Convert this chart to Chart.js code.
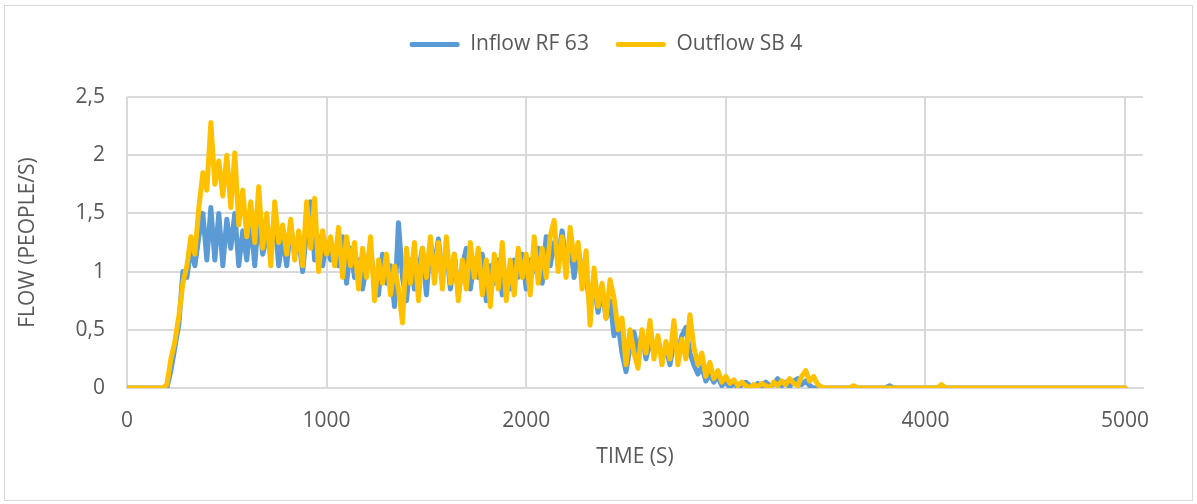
<!DOCTYPE html>
<html>
<head>
<meta charset="utf-8">
<title>Flow</title>
<script src="https://cdn.jsdelivr.net/npm/chart.js@4.4.1/dist/chart.umd.min.js"></script>
<style>
    html, body { margin: 0; padding: 0; background: #fff; }
</style>
</head>
<body>
<canvas id="flowChart" width="1197" height="504"></canvas>
<script>
/* global Chart */

// one sample every STEP seconds, starting at t = 0
const STEP = 20;

const inflow = [
    0, 0, 0, 0, 0, 0, 0, 0, 0, 0,
    0, 0.15, 0.35, 0.55, 1.0, 0.95, 1.2, 1.05, 1.3, 1.5,
    1.1, 1.55, 1.1, 1.5, 1.05, 1.45, 1.2, 1.5, 1.05, 1.35,
    1.1, 1.45, 1.05, 1.5, 1.15, 1.3, 1.2, 1.45, 1.05, 1.3,
    1.05, 1.4, 1.15, 1.3, 1.0, 1.35, 1.6, 1.1, 1.3, 1.05,
    1.25, 1.1, 1.2, 1.05, 1.3, 0.9, 1.2, 0.95, 1.1, 0.85,
    1.05, 1.2, 0.9, 0.8, 1.15, 0.9, 1.05, 0.7, 1.42, 0.95,
    0.75, 1.1, 0.85, 1.0, 1.2, 0.8, 1.25, 1.05, 1.28, 0.95,
    1.2, 0.85, 1.15, 0.8, 1.05, 1.2, 0.85, 1.1, 0.95, 1.15,
    0.75, 1.05, 0.9, 1.1, 0.8, 1.0, 0.85, 1.1, 0.95, 1.15,
    0.85, 1.1, 1.0, 1.2, 0.9, 1.3, 1.05, 1.25, 1.1, 1.35,
    1.05, 1.25, 0.95, 1.2, 1.0, 0.95, 0.7, 0.9, 0.65, 0.85,
    0.6, 0.75, 0.45, 0.55, 0.3, 0.14, 0.35, 0.48, 0.3, 0.48,
    0.25, 0.4, 0.3, 0.42, 0.25, 0.35, 0.2, 0.4, 0.3, 0.45,
    0.52, 0.3, 0.2, 0.12, 0.18, 0.06, 0.12, 0.05, 0.1, 0.02,
    0.06, 0, 0.05, 0, 0.03, 0.05, 0.02, 0, 0.04, 0.01,
    0.05, 0.02, 0.03, 0.08, 0.02, 0.05, 0.01, 0.06, 0.08, 0.03,
    0.06, 0.02, 0, 0, 0, 0, 0, 0, 0, 0,
    0, 0, 0, 0, 0, 0, 0, 0, 0, 0,
    0, 0.02, 0, 0, 0, 0, 0, 0, 0, 0,
    0, 0, 0, 0, 0, 0, 0, 0, 0, 0,
    0, 0, 0, 0, 0, 0, 0, 0, 0, 0,
    0, 0, 0, 0, 0, 0, 0, 0, 0, 0,
    0, 0, 0, 0, 0, 0, 0, 0, 0, 0,
    0, 0, 0, 0, 0, 0, 0, 0, 0, 0,
    0
];

const outflow = [
    0, 0, 0, 0, 0, 0, 0, 0, 0, 0,
    0.03, 0.25, 0.4, 0.62, 0.9, 1.05, 1.3, 1.15, 1.55, 1.85,
    1.7, 2.28, 1.75, 1.95, 1.65, 2.0, 1.55, 2.02, 1.4, 1.7,
    1.3, 1.6, 1.25, 1.73, 1.2, 1.5, 1.05, 1.6, 1.25, 1.4,
    1.15, 1.45, 1.1, 1.35, 1.05, 1.6, 1.2, 1.63, 1.0, 1.35,
    1.15, 1.3, 1.05, 1.38, 0.95, 1.3, 1.05, 1.25, 0.85, 1.2,
    0.95, 1.3, 0.75, 1.1, 0.9, 1.15, 0.8, 1.05, 0.85, 0.56,
    1.2, 0.9, 1.25, 0.75, 1.2, 0.95, 1.3, 0.9, 1.25, 0.85,
    1.3, 0.9, 1.15, 0.75, 1.1, 0.85, 1.25, 0.95, 1.2, 0.8,
    1.1, 0.7, 1.15, 0.85, 1.25, 0.75, 1.1, 0.8, 1.2, 0.95,
    1.15, 0.8, 1.3, 0.9, 1.2, 0.95, 1.3, 1.44, 1.0, 1.3,
    0.95, 1.38, 1.1, 1.25, 0.85, 1.18, 0.54, 1.03, 0.7, 0.9,
    0.6, 0.93, 0.77, 0.5, 0.6, 0.2, 0.5, 0.3, 0.17, 0.5,
    0.3, 0.58, 0.25, 0.45, 0.2, 0.4, 0.25, 0.58, 0.2, 0.42,
    0.25, 0.63, 0.35, 0.2, 0.3, 0.1, 0.22, 0.08, 0.15, 0.05,
    0.1, 0.04, 0.07, 0.02, 0.05, 0.02, 0, 0.03, 0.01, 0.04,
    0.02, 0, 0.05, 0.02, 0.06, 0.03, 0.08, 0.04, 0.02, 0.1,
    0.15, 0.06, 0.1, 0.03, 0.01, 0, 0, 0, 0, 0,
    0, 0, 0.02, 0, 0, 0, 0, 0, 0, 0,
    0, 0, 0, 0, 0, 0, 0, 0, 0, 0,
    0, 0, 0, 0, 0.03, 0, 0, 0, 0, 0,
    0, 0, 0, 0, 0, 0, 0, 0, 0, 0,
    0, 0, 0, 0, 0, 0, 0, 0, 0, 0,
    0, 0, 0, 0, 0, 0, 0, 0, 0, 0,
    0, 0, 0, 0, 0, 0, 0, 0, 0, 0,
    0
];

const X_TICKS = [0, 1000, 2000, 3000, 4000, 5000];
const Y_TICKS = [0, 0.5, 1, 1.5, 2, 2.5];

const FONT = { family: "'Open Sans', sans-serif", size: 21 };
const TEXT = '#595959';
const GRID = '#d9d9d9';

const toPoints = values => values.map((y, i) => ({ x: i * STEP, y }));

// white background + thin frame around the whole chart
const frame = {
    id: 'frame',
    beforeDraw(chart) {
        const { ctx, width, height } = chart;
        ctx.save();
        ctx.fillStyle = '#fff';
        ctx.fillRect(0, 0, width, height);
        ctx.strokeStyle = GRID;
        ctx.lineWidth = 1;
        ctx.strokeRect(4.5, 5.5, width - 9, height - 9);
        ctx.restore();
    }
};

// extra room under the legend, and keep it centred on the whole canvas
const legendSpacing = {
    id: 'legendSpacing',
    beforeInit(chart) {
        const fit = chart.legend.fit;
        chart.legend.fit = function () {
            fit.call(this);
            this.height += 32;
        };
    },
    afterLayout(chart) {
        const lg = chart.legend;
        lg.left = 15;
        lg.right = chart.width;
        lg.width = lg.right - lg.left;
    }
};

new Chart(document.getElementById('flowChart'), {
    type: 'line',
    data: {
        datasets: [
            {
                label: 'Inflow RF 63',
                data: toPoints(inflow),
                borderColor: '#5b9bd5',
                backgroundColor: '#5b9bd5',
                order: 1
            },
            {
                label: 'Outflow SB 4',
                data: toPoints(outflow),
                borderColor: '#ffc000',
                backgroundColor: '#ffc000',
                order: 0 // drawn over the inflow line
            }
        ]
    },
    plugins: [frame, legendSpacing],
    options: {
        responsive: false,
        animation: false,
        layout: { padding: { left: 5, right: 54, top: 7, bottom: 5 } },
        elements: {
            point: { radius: 0 },
            line: { borderWidth: 5, tension: 0, borderJoinStyle: 'round', borderCapStyle: 'round' }
        },
        scales: {
            x: {
                type: 'linear',
                min: 0,
                max: 5090,
                afterBuildTicks: axis => { axis.ticks = X_TICKS.map(value => ({ value })); },
                afterFit: scale => { scale.height = 111; },
                grid: { color: GRID, lineWidth: 2, drawTicks: false },
                border: { color: GRID, width: 2 },
                ticks: {
                    font: FONT, color: TEXT, padding: 20,
                    autoSkip: false, maxRotation: 0,
                    callback: v => String(v)
                },
                title: {
                    display: true, text: 'TIME (S)',
                    font: FONT, color: TEXT,
                    padding: { top: 0, bottom: 29 }
                }
            },
            y: {
                min: 0,
                max: 2.5,
                afterBuildTicks: axis => { axis.ticks = Y_TICKS.map(value => ({ value })); },
                afterFit: scale => { scale.width = 122; },
                grid: { color: GRID, lineWidth: 2, drawTicks: false },
                border: { display: false },
                ticks: {
                    font: FONT, color: TEXT, padding: 22,
                    callback: v => String(v).replace('.', ',')
                },
                title: {
                    display: true, text: 'FLOW (PEOPLE/S)',
                    font: FONT, color: TEXT,
                    padding: { top: 10, bottom: 0 }
                }
            }
        },
        plugins: {
            tooltip: { enabled: false },
            legend: {
                position: 'top',
                reverse: true,
                labels: {
                    font: FONT,
                    color: TEXT,
                    boxWidth: 50,
                    boxHeight: 5,
                    padding: 27,
                    useBorderRadius: true,
                    borderRadius: 2,
                    generateLabels: chart =>
                        Chart.defaults.plugins.legend.labels.generateLabels(chart)
                            .map(item => ({ ...item, fillStyle: item.strokeStyle, lineWidth: 0 }))
                }
            }
        }
    }
});
</script>
</body>
</html>
